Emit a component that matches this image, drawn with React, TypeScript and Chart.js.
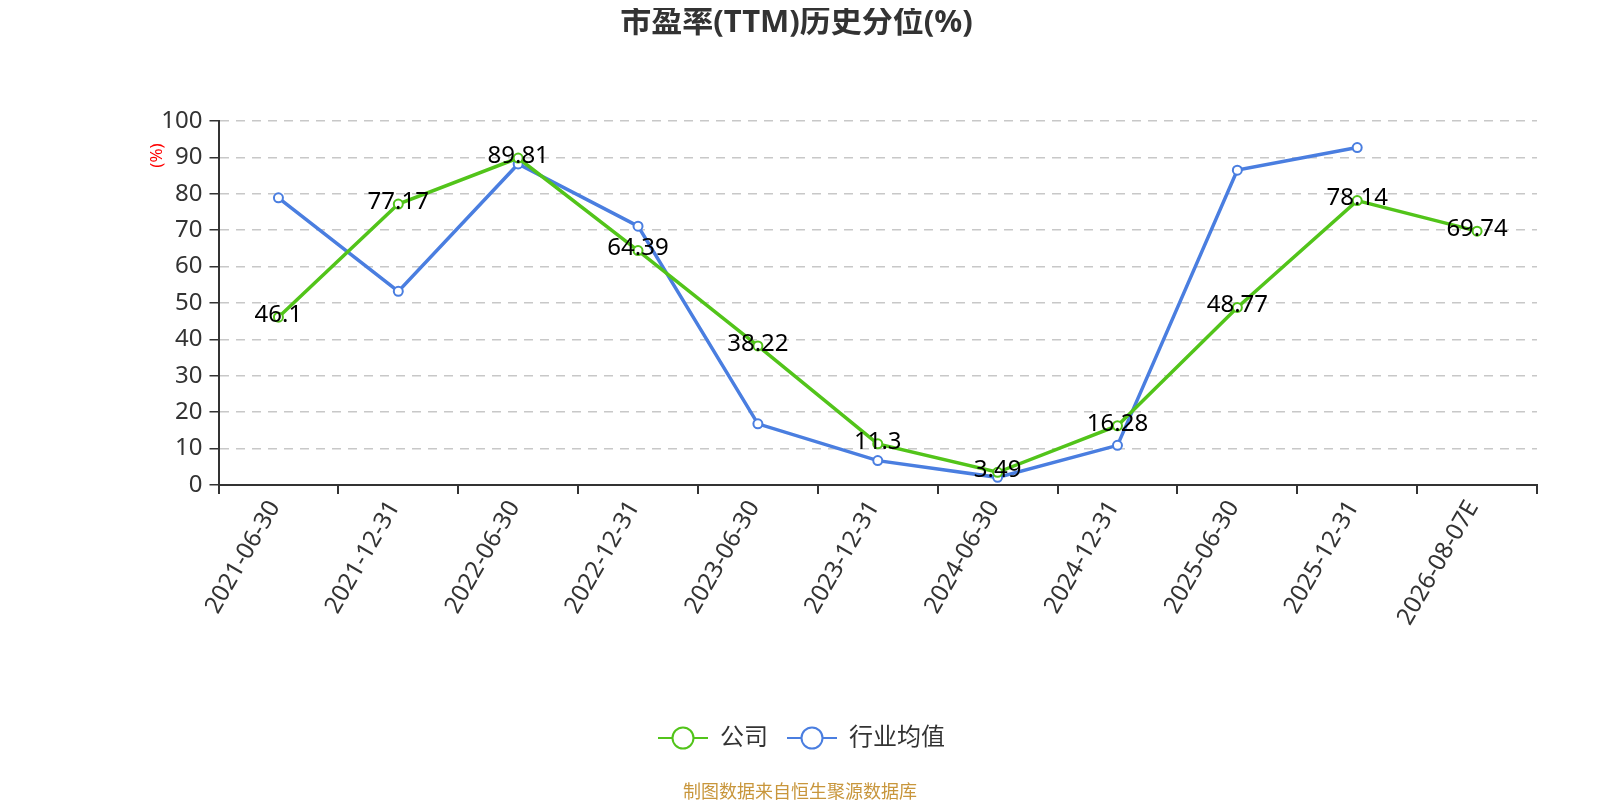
import React, { useEffect, useRef } from 'react';
import { Chart, registerables } from 'chart.js';

Chart.register(...registerables);

const categories = [
  '2021-06-30', '2021-12-31', '2022-06-30', '2022-12-31', '2023-06-30', '2023-12-31',
  '2024-06-30', '2024-12-31', '2025-06-30', '2025-12-31', '2026-08-07E',
];
const companyValues = [46.1, 77.17, 89.81, 64.39, 38.22, 11.3, 3.49, 16.28, 48.77, 78.14, 69.74];
const industryValues = [78.9, 53.2, 88.2, 71.1, 16.8, 6.7, 2.1, 10.9, 86.5, 92.7, null];
const yTicks = [0, 10, 20, 30, 40, 50, 60, 70, 80, 90, 100];

const GREEN = '#52c41a';
const BLUE = '#4a7ee0';
const FONT = '"Noto Sans", "Noto Sans CJK SC", sans-serif';

// legend icon: a short line with a hollow circle in the middle
function legendIcon(color: string): HTMLCanvasElement {
  const c = document.createElement('canvas');
  c.width = 50;
  c.height = 26;
  const g = c.getContext('2d')!;
  g.strokeStyle = color;
  g.lineWidth = 2;
  g.beginPath();
  g.moveTo(0, 13);
  g.lineTo(50, 13);
  g.stroke();
  g.beginPath();
  g.arc(25, 13, 10.5, 0, Math.PI * 2);
  g.fillStyle = '#fff';
  g.fill();
  g.lineWidth = 2;
  g.stroke();
  return c;
}

const valueLabels = {
  id: 'valueLabels',
  afterDatasetsDraw(chart: any) {
    const ctx = chart.ctx;
    const meta = chart.getDatasetMeta(0);
    ctx.save();
    ctx.font = `24px ${FONT}`;
    ctx.fillStyle = '#000';
    ctx.textAlign = 'center';
    ctx.textBaseline = 'middle';
    meta.data.forEach((pt: any, i: number) => {
      ctx.fillText(String(companyValues[i]), pt.x, pt.y - 2);
    });
    ctx.restore();
  },
};

// rotated category labels, anchored a little below the axis
const xLabels = {
  id: 'xLabels',
  afterDraw(chart: any) {
    const ctx = chart.ctx;
    const xs = chart.scales.x;
    const base = chart.chartArea.bottom;
    ctx.save();
    ctx.font = `24px ${FONT}`;
    ctx.fillStyle = '#333';
    ctx.textAlign = 'right';
    ctx.textBaseline = 'middle';
    categories.forEach((c, i) => {
      ctx.save();
      ctx.translate(xs.getPixelForValue(i) - 4, base + 18);
      ctx.rotate(-Math.PI / 3);
      ctx.fillText(c, 0, 0);
      ctx.restore();
    });
    ctx.restore();
  },
};

// red unit label beside the upper part of the y axis
const unitLabel = {
  id: 'unitLabel',
  afterDraw(chart: any) {
    const ctx = chart.ctx;
    ctx.save();
    ctx.translate(149.5, 147.5);
    ctx.rotate(-Math.PI / 2);
    ctx.font = `17px ${FONT}`;
    ctx.fillStyle = '#ff0000';
    ctx.textAlign = 'center';
    ctx.textBaseline = 'middle';
    ctx.fillText('(%)', 0, 0);
    ctx.restore();
  },
};

const legendShift = {
  id: 'legendShift',
  afterLayout(chart: any) {
    if (chart.legend) {
      chart.legend.left += 5;
      chart.legend.right += 5;
    }
  },
};

const App: React.FC = () => {
  const canvasRef = useRef<HTMLCanvasElement>(null);

  useEffect(() => {
    if (!canvasRef.current) return;
    const chart = new Chart(canvasRef.current, {
      type: 'line',
      data: {
        labels: categories,
        datasets: [
          {
            label: '公司',
            data: companyValues,
            borderColor: GREEN,
            backgroundColor: '#fff',
            borderWidth: 3.5,
            pointStyle: 'circle',
            pointRadius: 4.5,
            pointBorderWidth: 2,
            pointBorderColor: GREEN,
            pointBackgroundColor: '#fff',
            tension: 0,
          },
          {
            label: '行业均值',
            data: industryValues,
            borderColor: BLUE,
            backgroundColor: '#fff',
            borderWidth: 3.5,
            pointStyle: 'circle',
            pointRadius: 4.5,
            pointBorderWidth: 2,
            pointBorderColor: BLUE,
            pointBackgroundColor: '#fff',
            tension: 0,
          },
        ],
      },
      options: {
        animation: false,
        responsive: true,
        maintainAspectRatio: false,
        layout: { padding: { left: 0, right: 0, top: 0, bottom: 32 } },
        plugins: {
          title: {
            display: true,
            text: '市盈率(TTM)历史分位(%)',
            color: '#333',
            font: { family: FONT, size: 31, weight: 'bold', lineHeight: 1 },
            padding: { top: 0, bottom: 82 },
          },
          legend: {
            position: 'bottom',
            labels: {
              usePointStyle: true,
              pointStyleWidth: 50,
              padding: 19,
              color: '#333',
              font: { family: FONT, size: 24 },
              generateLabels: (ch: any) =>
                ch.data.datasets.map((ds: any, i: number) => ({
                  text: ds.label,
                  fillStyle: '#fff',
                  strokeStyle: ds.borderColor,
                  pointStyle: legendIcon(ds.borderColor),
                  datasetIndex: i,
                  hidden: false,
                  fontColor: '#333',
                })),
            },
          },
          tooltip: { enabled: false },
        },
        scales: {
          x: {
            type: 'category',
            offset: true,
            afterFit: (s: any) => { s.height = 222; },
            grid: {
              offset: true,
              drawOnChartArea: false,
              drawTicks: true,
              tickLength: 9,
              tickColor: '#333',
              lineWidth: 2,
            },
            border: { display: true, color: '#333', width: 2 },
            ticks: { display: false, autoSkip: false },
          },
          y: {
            min: 0,
            max: 100,
            afterFit: (s: any) => { s.width = 210.5; },
            afterBuildTicks: (s: any) => { s.ticks = yTicks.map((v) => ({ value: v })); },
            grid: {
              color: '#c8c8c8',
              lineWidth: 1.5,
              drawTicks: true,
              tickLength: 9,
              tickColor: '#333',
            },
            border: { display: true, color: '#333', width: 2, dash: [9, 7] },
            ticks: {
              color: '#333',
              font: { family: FONT, size: 24 },
              padding: 7,
            },
          },
          // empty axis that only keeps room on the right
          y2: {
            position: 'right',
            min: 0,
            max: 1,
            afterFit: (s: any) => { s.width = 48; },
            grid: { display: false },
            ticks: { display: false },
            border: { display: false },
          },
        },
      },
      plugins: [valueLabels, xLabels, unitLabel, legendShift],
    });
    return () => chart.destroy();
  }, []);

  return (
    <div style={{ position: 'relative', width: 1577, height: 784 }}>
      <canvas ref={canvasRef} />
      <div
        style={{
          position: 'fixed',
          left: 0,
          width: 1600,
          top: 778,
          textAlign: 'center',
          fontSize: 18,
          lineHeight: '24px',
          color: '#c8963c',
          fontFamily: '"Noto Sans CJK SC", sans-serif',
        }}
      >
        制图数据来自恒生聚源数据库
      </div>
    </div>
  );
};

export default App;
